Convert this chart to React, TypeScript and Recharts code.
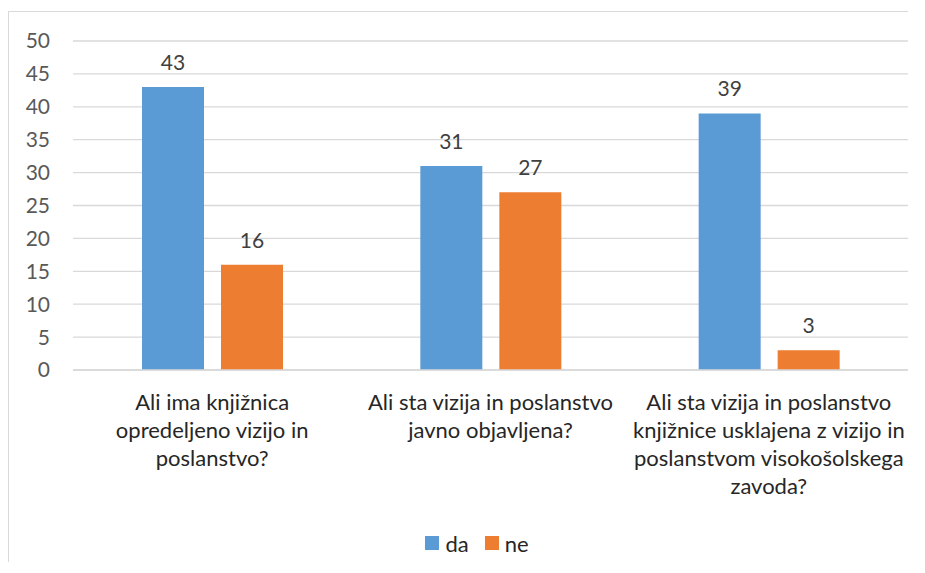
import { BarChart, Bar, XAxis, YAxis, CartesianGrid, Legend, LabelList } from "recharts";

const categories = [
  "Ali ima knjižnica\nopredeljeno vizijo in\nposlanstvo?",
  "Ali sta vizija in poslanstvo\njavno objavljena?",
  "Ali sta vizija in poslanstvo\nknjižnice usklajena z vizijo in\nposlanstvom visokošolskega\nzavoda?",
];
const daValues = [43, 31, 39];
const neValues = [16, 27, 3];
const yTicks = [0, 5, 10, 15, 20, 25, 30, 35, 40, 45, 50];

const BLUE = "#5B9BD5";
const ORANGE = "#ED7D31";
const FONT = "Lato, 'Open Sans', sans-serif";

const data = categories.map((name, i) => ({ name, da: daValues[i], ne: neValues[i] }));

// multi-line category label under each group
const CategoryTick = ({ x, y, payload }: any) => {
  const lines = String(payload.value).split("\n");
  return (
    <text x={x} y={y} textAnchor="middle" fill="#262626" fontSize={22} fontFamily={FONT}>
      {lines.map((line, i) => (
        <tspan key={i} x={x} y={y + 40 + i * 28}>
          {line}
        </tspan>
      ))}
    </text>
  );
};

const LegendContent = () => (
  <div
    style={{
      height: 28,
      display: "flex",
      justifyContent: "center",
      alignItems: "center",
      gap: 16,
      paddingLeft: 37,
      fontFamily: FONT,
      fontSize: 22,
      color: "#262626",
    }}
  >
    {[
      { label: "da", color: BLUE },
      { label: "ne", color: ORANGE },
    ].map((item) => (
      <span key={item.label} style={{ display: "flex", alignItems: "center", gap: 6 }}>
        <span style={{ width: 14, height: 14, backgroundColor: item.color, display: "inline-block" }} />
        {item.label}
      </span>
    ))}
  </div>
);

export default function App() {
  return (
    <div style={{ position: "relative", marginTop: 3, width: 900, height: 551 }}>
      {/* chart frame: only the left and top edges are in view */}
      <div style={{ position: "absolute", left: 0, top: 0, width: 1, height: 551, background: "#D9D9D9" }} />
      <div style={{ position: "absolute", left: 0, top: 0, width: 900, height: 1, background: "#D9D9D9" }} />
      <div style={{ position: "absolute", left: 1, top: 1 }}>
        <BarChart
          width={899}
          height={550}
          data={data}
          margin={{ top: 29, right: 0, bottom: 5, left: 0 }}
          barSize={62}
          barGap={17}
        >
          <CartesianGrid vertical={false} stroke="#D9D9D9" strokeWidth={1.3} />
          <XAxis
            dataKey="name"
            height={159}
            tickLine={false}
            tickSize={0}
            tickMargin={0}
            axisLine={{ stroke: "#D9D9D9", strokeWidth: 1.3 }}
            tick={<CategoryTick />}
            interval={0}
          />
          <YAxis
            width={64}
            domain={[0, 50]}
            ticks={yTicks}
            axisLine={false}
            tickLine={false}
            tickSize={23}
            tickMargin={0}
            tick={{ fill: "#595959", fontSize: 21, fontFamily: FONT }}
          />
          <Legend
            verticalAlign="bottom"
            content={<LegendContent />}
            wrapperStyle={{ left: 0, width: 899 }}
          />
          <Bar dataKey="da" fill={BLUE} isAnimationActive={false}>
            <LabelList dataKey="da" position="top" offset={17} fill="#404040" fontSize={21} fontFamily={FONT} />
          </Bar>
          <Bar dataKey="ne" fill={ORANGE} isAnimationActive={false}>
            <LabelList dataKey="ne" position="top" offset={17} fill="#404040" fontSize={21} fontFamily={FONT} />
          </Bar>
        </BarChart>
      </div>
    </div>
  );
}
